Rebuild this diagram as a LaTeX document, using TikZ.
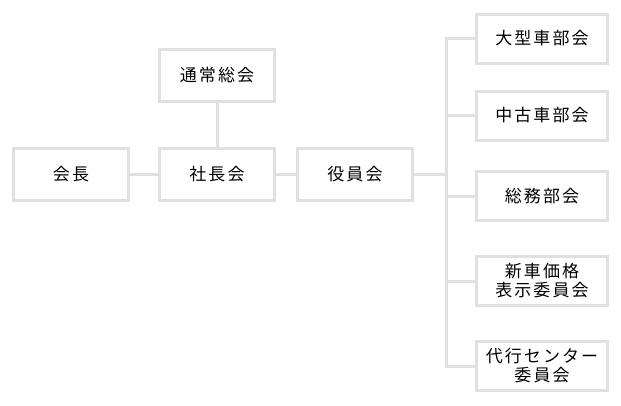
\documentclass[tikz,border=0pt]{standalone}
\usepackage{fontspec}
\newfontfamily\jpfont[LetterSpace=12]{Noto Sans CJK JP}
\definecolor{linegray}{RGB}{224, 224, 224}
\usepackage{tikz}
\usetikzlibrary{
    positioning,
    calc
}
\tikzstyle{box} = [
    draw=linegray,
    line width=3pt,
    fill=white,
    font=\jpfont\fontsize{17}{19}\selectfont,
    align=center,
    inner sep=0pt
]
\tikzstyle{leftbox} = [
    box,
    minimum width=115pt,
    minimum height=52pt
]
\tikzstyle{rightbox} = [
    box,
    minimum width=131pt,
    minimum height=49pt
]
\tikzstyle{link} = [
    draw=linegray,
    line width=3pt
]

\begin{document}
\begin{tikzpicture}[x=1pt, y=-1pt]
        \useasboundingbox (0,0) rectangle (621,405);

        % Main line
        \node[leftbox] (kaicho) at (71,174.5) {会長};
        \node[leftbox] (shachokai) at (217,174.5) {社長会};
        \node[leftbox] (tsujo) at (217,75) {通常総会};
        \node[leftbox] (yakuin) at (355,174.5) {役員会};

        % Committees
        \node[rightbox] (ogata) at (542,38.5) {大型車部会};
        \node[rightbox] (chuko) at (542,115.5) {中古車部会};
        \node[rightbox] (somu) at (542,196) {総務部会};
        \node[rightbox] (shinsha) at (542,281) {新車価格\\表示委員会};
        \node[rightbox] (daiko) at (542,366) {代行センター\\委員会};

        \coordinate (spine) at (446,174.5);

        % Connectors
        \draw[link] (kaicho) -- (shachokai);
        \draw[link] (tsujo) -- (shachokai);
        \draw[link] (shachokai) -- (yakuin);
        \draw[link] (yakuin) -- (spine);
        \draw[link] (ogata.west) -| (spine) |- (daiko.west);
        \draw[link] (chuko.west) -- (chuko.west -| spine);
        \draw[link] (somu.west) -- (somu.west -| spine);
        \draw[link] (shinsha.west) -- (shinsha.west -| spine);
    \end{tikzpicture}
\end{document}
